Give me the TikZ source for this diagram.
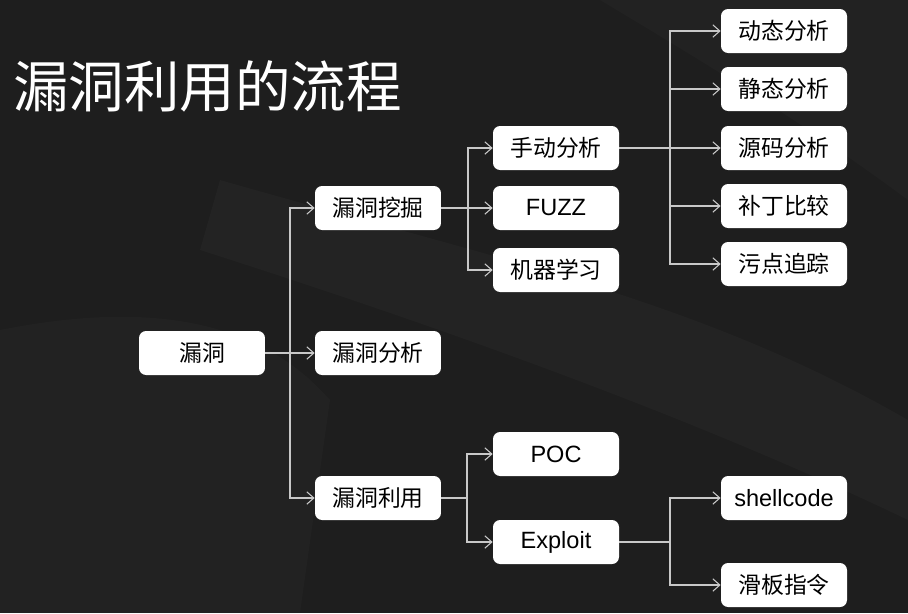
\documentclass[tikz,border=0pt]{standalone}
\usepackage{fontspec}
\setmainfont{Liberation Sans}
\newfontfamily\cjk{Noto Sans CJK SC}
\usetikzlibrary{arrows.meta}
\definecolor{bgdark}{HTML}{1E1E1E}
\definecolor{bglight}{HTML}{3A3A3A}
\definecolor{linegray}{HTML}{C8C8C8}
\tikzset{
  box/.style={fill=white, rounded corners=4pt, minimum width=2.52cm, minimum height=0.88cm,
    inner sep=0pt, text=black, font=\cjk\fontsize{13}{15}\selectfont},
  latinbox/.style={box, font=\fontsize{13.4}{15}\selectfont},
  conn/.style={draw=linegray, line width=0.6pt, -{Straight Barb[length=4pt,width=7pt]}},
}
\begin{document}
\begin{tikzpicture}[x=0.02cm,y=-0.02cm]
\useasboundingbox (0,0) rectangle (908,613);
% background
\fill[bgdark] (0,0) rectangle (908,613);
\fill[bglight,opacity=0.18] (220,180) .. controls (500,260) and (700,300) .. (908,420) -- (908,520) .. controls (700,420) and (450,330) .. (200,250) -- cycle;
\fill[bglight,opacity=0.15] (0,330) .. controls (150,300) and (260,320) .. (330,400) -- (300,613) -- (0,613) -- cycle;
\fill[bglight,opacity=0.15] (600,0) -- (908,0) -- (908,200) .. controls (800,120) and (700,60) .. (600,0) -- cycle;

% title
\node[anchor=west, text=white, inner sep=0pt, font=\cjk\fontsize{31.6}{36}\selectfont] (title) at (13,86) {漏洞利用的流程};

% nodes
\node[box] (v) at (202,353) {漏洞};
\node[box] (wj) at (378,208) {漏洞挖掘};
\node[box] (fx) at (378,353) {漏洞分析};
\node[box] (ly) at (378,498) {漏洞利用};
\node[box] (sd) at (556,148) {手动分析};
\node[latinbox] (fuzz) at (556,208) {FUZZ};
\node[box] (jq) at (556,270) {机器学习};
\node[latinbox] (poc) at (556,454) {POC};
\node[latinbox] (exp) at (556,542) {Exploit};
\node[box] (dt) at (784,31) {动态分析};
\node[box] (jt) at (784,89) {静态分析};
\node[box] (ym) at (784,148) {源码分析};
\node[box] (bd) at (784,206) {补丁比较};
\node[box] (wd) at (784,264) {污点追踪};
\node[latinbox] (sc) at (784,498) {shellcode};
\node[box] (hb) at (784,585) {滑板指令};

% bus x positions
\coordinate (b1) at (290,0);
\coordinate (b2) at (468,0);
\coordinate (b3) at (670,0);
\coordinate (b4) at (467,0);
\coordinate (b5) at (670,0);

% connectors
\draw[conn] (v.east) -- (fx.west);
\draw[conn] (v.east) -- (v.east -| b1) |- (wj.west);
\draw[conn] (v.east) -- (v.east -| b1) |- (ly.west);

\draw[conn] (wj.east) -- (fuzz.west);
\draw[conn] (wj.east) -- (wj.east -| b2) |- (sd.west);
\draw[conn] (wj.east) -- (wj.east -| b2) |- (jq.west);

\draw[conn] (sd.east) -- (ym.west);
\draw[conn] (sd.east) -- (sd.east -| b3) |- (dt.west);
\draw[conn] (sd.east) -- (sd.east -| b3) |- (jt.west);
\draw[conn] (sd.east) -- (sd.east -| b3) |- (bd.west);
\draw[conn] (sd.east) -- (sd.east -| b3) |- (wd.west);

\draw[conn] (ly.east) -- (ly.east -| b4) |- (poc.west);
\draw[conn] (ly.east) -- (ly.east -| b4) |- (exp.west);

\draw[conn] (exp.east) -- (exp.east -| b5) |- (sc.west);
\draw[conn] (exp.east) -- (exp.east -| b5) |- (hb.west);
\end{tikzpicture}
\end{document}
